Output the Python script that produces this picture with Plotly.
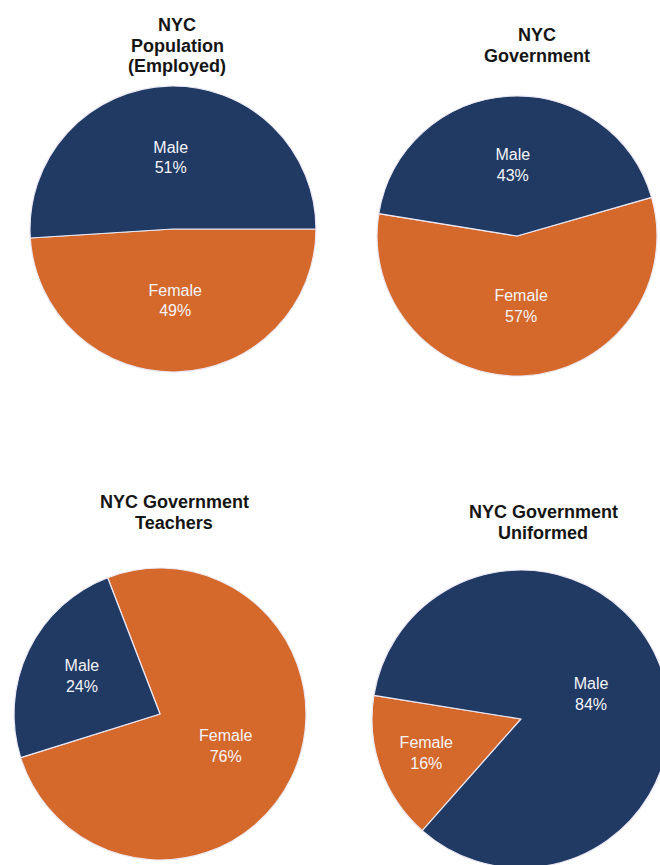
import plotly.graph_objects as go

# Figure slightly larger than the 660x865 window so the bottom-right pie is
# clipped at the page edge like in the reference; page margin removed.
W, H = 672, 872

labels = ["Female", "Male"]
title_lines = [
    ["NYC", "Population", "(Employed)"],
    ["NYC", "Government"],
    ["NYC Government", "Teachers"],
    ["NYC Government", "Uniformed"],
]
male_pct = [51, 43, 24, 84]
female_pct = [49, 57, 76, 16]

NAVY = "#203a64"
ORANGE = "#d5692b"

# pixel geometry: center x, center y, radius, rotation
geo = [
    (173, 229, 143, 90),
    (517, 236, 140, 74),
    (160, 714, 146, -21),
    (521, 719, 149, -138.5),
]
# pixel title positions: center x, list of line center ys
title_pos = [
    (177, [25, 46, 66]),
    (537, [35, 56]),
    (174, [502, 523]),
    (543, [512, 533]),
]

FONT = "Liberation Sans, Arial"

fig = go.Figure()
for i in range(4):
    cx, cy, r, rot = geo[i]
    fig.add_trace(go.Pie(
        labels=labels,
        values=[female_pct[i], male_pct[i]],
        sort=False,
        direction="counterclockwise",
        rotation=rot,
        marker=dict(colors=[ORANGE, NAVY], line=dict(color="#ece8f4", width=1.2)),
        texttemplate="%{label}<br>%{value}%",
        textposition="inside",
        insidetextorientation="horizontal",
        textfont=dict(family=FONT, size=16, color="#f4f4f8"),
        hoverinfo="skip",
        showlegend=False,
        domain=dict(x=[(cx - r) / W, (cx + r) / W],
                    y=[1 - (cy + r) / H, 1 - (cy - r) / H]),
    ))

for i, (tx, tys) in enumerate(title_pos):
    for line, ty in zip(title_lines[i], tys):
        fig.add_annotation(
            text="<b>" + line + "</b>",
            x=tx / W, y=1 - ty / H, xref="paper", yref="paper",
            xanchor="center", yanchor="middle", showarrow=False,
            font=dict(family=FONT, size=18, color="#151515"),
        )

fig.update_layout(
    width=W, height=H,
    margin=dict(l=0, r=0, t=0, b=0),
    paper_bgcolor="white",
    plot_bgcolor="white",
)

fig.write_html(
    "out.html",
    config={"displayModeBar": False},
    post_script=(
        "document.body.style.margin='0';"
        "document.body.style.overflow='hidden';"
        "document.documentElement.style.overflow='hidden';"
    ),
)
